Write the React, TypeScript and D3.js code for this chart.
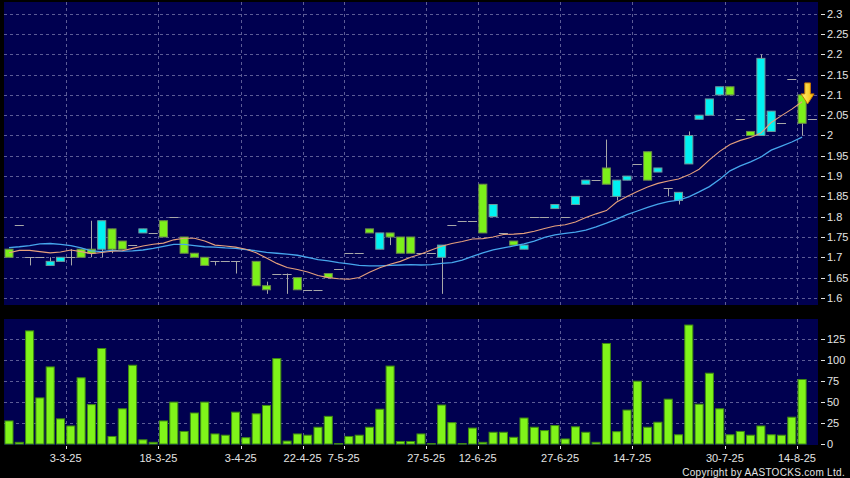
import React from "react";
import * as d3 from "d3";

// daily candles, oldest first (last one is today's, no volume yet)
const opens = [1.72, 1.78, 1.7, 1.7, 1.68, 1.69, 1.7, 1.72, 1.72, 1.72, 1.77, 1.74, 1.73, 1.76, 1.76, 1.79, 1.8, 1.75, 1.71, 1.7, 1.69, 1.69, 1.69, 1.72, 1.69, 1.63, 1.66, 1.66, 1.65, 1.62, 1.62, 1.66, 1.67, 1.71, 1.71, 1.77, 1.72, 1.76, 1.75, 1.75, 1.71, 1.71, 1.7, 1.78, 1.79, 1.79, 1.88, 1.8, 1.76, 1.74, 1.72, 1.8, 1.8, 1.82, 1.8, 1.83, 1.88, 1.89, 1.92, 1.85, 1.89, 1.93, 1.96, 1.91, 1.87, 1.84, 1.93, 2.04, 2.05, 2.1, 2.12, 2.04, 2.01, 2.0, 2.01, 2.03, 2.14, 2.1, 2.04];
const highs = [1.72, 1.78, 1.7, 1.7, 1.7, 1.7, 1.72, 1.72, 1.79, 1.79, 1.77, 1.74, 1.73, 1.77, 1.76, 1.79, 1.8, 1.75, 1.71, 1.7, 1.69, 1.69, 1.69, 1.72, 1.69, 1.64, 1.66, 1.66, 1.65, 1.62, 1.62, 1.66, 1.67, 1.71, 1.71, 1.77, 1.76, 1.76, 1.75, 1.75, 1.71, 1.71, 1.73, 1.78, 1.79, 1.79, 1.88, 1.83, 1.76, 1.74, 1.73, 1.8, 1.8, 1.83, 1.8, 1.85, 1.89, 1.89, 1.99, 1.89, 1.9, 1.93, 1.96, 1.92, 1.87, 1.86, 2.01, 2.05, 2.09, 2.12, 2.12, 2.04, 2.01, 2.2, 2.06, 2.03, 2.14, 2.1, 2.04];
const lows = [1.7, 1.78, 1.68, 1.7, 1.68, 1.69, 1.68, 1.7, 1.7, 1.7, 1.71, 1.72, 1.73, 1.76, 1.76, 1.75, 1.8, 1.71, 1.7, 1.68, 1.68, 1.69, 1.66, 1.72, 1.63, 1.61, 1.66, 1.61, 1.62, 1.62, 1.62, 1.65, 1.67, 1.71, 1.71, 1.76, 1.72, 1.73, 1.71, 1.71, 1.71, 1.71, 1.61, 1.78, 1.79, 1.79, 1.76, 1.8, 1.76, 1.73, 1.72, 1.8, 1.8, 1.82, 1.8, 1.83, 1.88, 1.89, 1.88, 1.84, 1.89, 1.93, 1.89, 1.91, 1.85, 1.83, 1.93, 2.04, 2.05, 2.1, 2.1, 2.04, 2.0, 2.0, 2.01, 2.03, 2.14, 2.0, 2.04];
const closes = [1.7, 1.78, 1.7, 1.7, 1.69, 1.7, 1.7, 1.7, 1.71, 1.79, 1.72, 1.72, 1.73, 1.77, 1.76, 1.75, 1.8, 1.71, 1.7, 1.68, 1.69, 1.69, 1.69, 1.72, 1.63, 1.62, 1.66, 1.66, 1.62, 1.62, 1.62, 1.65, 1.67, 1.71, 1.71, 1.76, 1.76, 1.75, 1.71, 1.71, 1.71, 1.71, 1.73, 1.78, 1.79, 1.79, 1.76, 1.83, 1.76, 1.73, 1.73, 1.8, 1.8, 1.83, 1.8, 1.85, 1.89, 1.89, 1.88, 1.89, 1.9, 1.93, 1.89, 1.92, 1.87, 1.86, 2.0, 2.05, 2.09, 2.12, 2.1, 2.04, 2.0, 2.19, 2.06, 2.03, 2.14, 2.03, 2.04];
const volumes = [27.5, 2, 135, 55, 92, 30, 21.5, 79, 47, 114, 9, 42, 94, 5, 2, 27.5, 50, 15, 37, 50, 12, 10.5, 38, 7.5, 36, 46, 102, 3.5, 12, 10.5, 20, 33, 0.5, 9, 10.5, 20, 41.5, 93, 3, 3, 12, 0.5, 46.5, 25.5, 0.5, 19, 2, 14, 14, 8, 31, 20, 16, 22, 6, 20.5, 14, 2, 120, 14.7, 40.5, 75, 20, 26, 53.5, 11, 142, 47.5, 84.5, 42, 11, 15, 10.5, 21.5, 11, 10.5, 32, 77, 0];

// moving averages
const maShort = [1.711, 1.717, 1.717, 1.714, 1.711, 1.713, 1.718, 1.714, 1.709, 1.712, 1.715, 1.716, 1.722, 1.728, 1.732, 1.735, 1.743, 1.747, 1.747, 1.74, 1.73, 1.728, 1.725, 1.72, 1.711, 1.698, 1.685, 1.675, 1.67, 1.664, 1.655, 1.65, 1.647, 1.646, 1.65, 1.663, 1.674, 1.683, 1.69, 1.7, 1.708, 1.718, 1.727, 1.734, 1.739, 1.745, 1.746, 1.75, 1.756, 1.757, 1.759, 1.764, 1.771, 1.777, 1.78, 1.787, 1.798, 1.807, 1.815, 1.836, 1.85, 1.862, 1.873, 1.882, 1.888, 1.893, 1.903, 1.917, 1.94, 1.961, 1.978, 1.988, 1.995, 2.006, 2.032, 2.049, 2.065, 2.083];
const maLong = [1.724, 1.726, 1.729, 1.733, 1.734, 1.732, 1.729, 1.723, 1.716, 1.714, 1.717, 1.715, 1.716, 1.718, 1.722, 1.727, 1.732, 1.732, 1.729, 1.726, 1.725, 1.723, 1.722, 1.719, 1.716, 1.712, 1.71, 1.708, 1.705, 1.7, 1.694, 1.691, 1.687, 1.684, 1.68, 1.679, 1.679, 1.68, 1.681, 1.682, 1.681, 1.682, 1.685, 1.687, 1.693, 1.702, 1.711, 1.718, 1.723, 1.728, 1.733, 1.74, 1.749, 1.755, 1.759, 1.762, 1.767, 1.775, 1.784, 1.794, 1.805, 1.814, 1.823, 1.831, 1.837, 1.841, 1.849, 1.861, 1.874, 1.892, 1.913, 1.925, 1.935, 1.947, 1.964, 1.974, 1.984, 1.996];

const priceTicks = [1.6, 1.65, 1.7, 1.75, 1.8, 1.85, 1.9, 1.95, 2.0, 2.05, 2.1, 2.15, 2.2, 2.25, 2.3];
const volTicks = [0, 25, 50, 75, 100, 125];
// date labels, each sits before the bar with this index
const dateLabels = ["3-3-25", "18-3-25", "3-4-25", "22-4-25", "7-5-25", "27-5-25", "12-6-25", "27-6-25", "14-7-25", "30-7-25", "14-8-25"];
const dateBarIdx = [6, 15, 23, 29, 33, 41, 46, 54, 61, 70, 77];
// bar carrying the yellow signal arrow
const signalBar = 77;

const FONT = "'Liberation Sans', Arial, sans-serif";

export default function App() {
  const width = 850;
  const height = 478;
  const left = 4;
  const right = 818;
  const mainTop = 2;
  const mainBottom = 305;
  const volTop = 319;
  const volBottom = 445;

  const x = d3
    .scaleBand<number>()
    .domain(d3.range(opens.length))
    .range([3.85, 817.55])
    .paddingInner(0.12)
    .paddingOuter(0.06);
  const bw = x.bandwidth();
  const cx = (i) => x(i) + bw / 2;
  const gridX = (i) => x(i) - (x.step() - bw) / 2;

  const y = d3.scaleLinear().domain([1.5825, 2.3288]).range([mainBottom, mainTop]);
  const yVol = d3.scaleLinear().domain([0, 149.2]).range([444, volTop]);

  const maLine = d3
    .line<number>()
    .x((d, i) => cx(i))
    .y((d) => y(d));

  const gridColor = "#5c5c96";
  const labelColor = "#e4e4e4";

  const ax = cx(signalBar) + 5.5;
  const at = y(highs[signalBar]) + 9;

  return (
    <svg
      width={width}
      height={height}
      style={{ position: "absolute", left: 0, top: 0, background: "#000" }}
      fontFamily={FONT}
    >
      <defs>
        <clipPath id="mainClip">
          <rect x={left} y={mainTop} width={right - left} height={mainBottom - mainTop} />
        </clipPath>
        <linearGradient id="arrowFill" x1="0" y1="0" x2="1" y2="0">
          <stop offset="0" stopColor="#fff27a" />
          <stop offset="1" stopColor="#f5b800" />
        </linearGradient>
      </defs>

      {/* panels */}
      <rect x={left} y={mainTop} width={right - left} height={mainBottom - mainTop} fill="#000050" />
      <rect x={left} y={volTop} width={right - left} height={volBottom - volTop} fill="#000050" />

      {/* grid */}
      <g stroke={gridColor} strokeWidth={1} strokeDasharray="3,3">
        {priceTicks.map((p) => (
          <line key={"pg" + p} x1={left} x2={right} y1={Math.round(y(p)) + 0.5} y2={Math.round(y(p)) + 0.5} />
        ))}
        {volTicks.slice(1).map((v) => (
          <line key={"vg" + v} x1={left} x2={right} y1={Math.round(yVol(v)) + 0.5} y2={Math.round(yVol(v)) + 0.5} />
        ))}
        {dateBarIdx.map((b) => (
          <g key={"dg" + b}>
            <line x1={Math.round(gridX(b)) + 0.5} x2={Math.round(gridX(b)) + 0.5} y1={mainTop} y2={mainBottom} />
            <line x1={Math.round(gridX(b)) + 0.5} x2={Math.round(gridX(b)) + 0.5} y1={volTop} y2={volBottom} />
          </g>
        ))}
      </g>

      {/* candles */}
      <g clipPath="url(#mainClip)">
        {opens.map((o, i) => {
          const c = closes[i];
          const xc = Math.round(cx(i)) + 0.5;
          const wick =
            highs[i] > lows[i] ? (
              <line x1={xc} x2={xc} y1={y(highs[i])} y2={y(lows[i])} stroke="#a8a8a8" strokeWidth={1} />
            ) : null;
          if (o === c) {
            return (
              <g key={"c" + i}>
                {wick}
                <line x1={x(i)} x2={x(i) + bw} y1={Math.round(y(o)) + 0.5} y2={Math.round(y(o)) + 0.5} stroke="#a8a8a8" strokeWidth={1} />
              </g>
            );
          }
          const up = c > o;
          const top = y(Math.max(o, c));
          const bot = y(Math.min(o, c));
          return (
            <g key={"c" + i}>
              {wick}
              <rect
                x={x(i) + 0.5}
                y={top}
                width={bw - 1}
                height={bot - top}
                fill={up ? "#00f2f2" : "#7cf01a"}
                stroke={up ? "#6f9c9c" : "#6c8a4a"}
                strokeWidth={1}
              />
            </g>
          );
        })}

        <path d={maLine(maLong)} fill="none" stroke="#46a6ec" strokeWidth={1.3} />
        <path d={maLine(maShort)} fill="none" stroke="#e6a07c" strokeWidth={1.1} />

        {/* signal arrow */}
        <path
          d={`M${ax - 2.8},${at - 21} L${ax + 2.8},${at - 21} L${ax + 2.8},${at - 10} L${ax + 6.5},${at - 10} L${ax},${at} L${ax - 6.5},${at - 10} L${ax - 2.8},${at - 10} Z`}
          fill="url(#arrowFill)"
          stroke="#c87800"
          strokeWidth={1}
        />
      </g>

      {/* volume */}
      <g>
        {volumes.map((v, i) =>
          v > 0 ? (
            <rect
              key={"v" + i}
              x={x(i) + 0.5}
              y={yVol(v)}
              width={bw - 1}
              height={Math.max(0.5, yVol(0) - yVol(v))}
              fill="#80f41a"
              stroke="#3f8a12"
              strokeWidth={1}
            />
          ) : null
        )}
      </g>

      {/* right axes */}
      <g fontSize={11} fill={labelColor}>
        {priceTicks.map((p) => (
          <g key={"pl" + p}>
            <line x1={821} x2={825} y1={Math.round(y(p)) + 0.5} y2={Math.round(y(p)) + 0.5} stroke={labelColor} />
            <text x={827} y={y(p)} dy="0.36em">
              {String(+p.toFixed(2))}
            </text>
          </g>
        ))}
        {volTicks.map((v) => (
          <g key={"vl" + v}>
            <line x1={821} x2={825} y1={Math.round(yVol(v)) + 0.5} y2={Math.round(yVol(v)) + 0.5} stroke={labelColor} />
            <text x={827} y={yVol(v)} dy="0.36em">
              {v}
            </text>
          </g>
        ))}
      </g>

      {/* date axis */}
      <g fontSize={11} fill={labelColor}>
        {dateBarIdx.map((b, k) => (
          <g key={"dl" + b}>
            <line x1={Math.round(gridX(b)) + 0.5} x2={Math.round(gridX(b)) + 0.5} y1={446} y2={449} stroke={labelColor} />
            <text x={gridX(b)} y={461.5} textAnchor="middle">
              {dateLabels[k]}
            </text>
          </g>
        ))}
      </g>

      <text x={845} y={476} textAnchor="end" fontSize={10} letterSpacing={0.3} fill={labelColor}>
        Copyright by AASTOCKS.com Ltd.
      </text>
    </svg>
  );
}
